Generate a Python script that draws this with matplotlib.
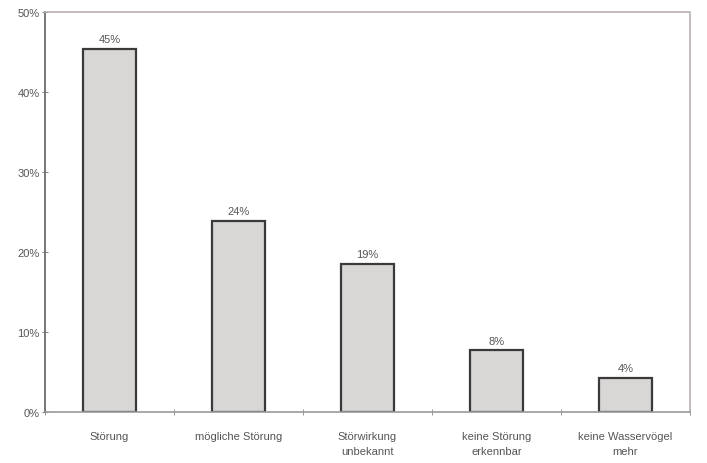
import matplotlib
matplotlib.use('Agg')
import matplotlib.pyplot as plt
import numpy as np

# data
categories = ['Störung', 'mögliche Störung', 'Störwirkung\nunbekannt',
              'keine Störung\nerkennbar', 'keine Wasservögel\nmehr']
values = [45.4, 23.9, 18.5, 7.7, 4.3]
bar_labels = ['45%', '24%', '19%', '8%', '4%']
yticks = [0, 10, 20, 30, 40, 50]

plt.rcParams['font.family'] = ['Liberation Sans', 'DejaVu Sans']

fig = plt.figure(figsize=(7.07, 4.64), dpi=100)
ax = fig.add_axes([0.0636, 0.110, 0.9124, 0.862])

x = np.arange(len(categories))
bars = ax.bar(x, values, width=0.41, color='#d9d6d6', edgecolor='#3a3a3a', linewidth=1.6)

for b, lab in zip(bars, bar_labels):
    ax.text(b.get_x() + b.get_width() / 2, b.get_height() + 0.6, lab,
            ha='center', va='bottom', fontsize=8, color='#555555')

ax.set_xlim(-0.5, len(categories) - 0.5)
ax.set_ylim(0, 50)
ax.set_yticks(yticks)
ax.set_yticklabels([f'{t}%' for t in yticks], fontsize=8, color='#555555')
ax.set_xticks(x)
ax.set_xticklabels(categories, fontsize=8, color='#555555', linespacing=1.6)
ax.set_xticks(np.arange(-0.5, len(categories)), minor=True)
ax.tick_params(axis='x', which='major', length=0, pad=14)
ax.tick_params(axis='x', which='minor', length=4, direction='inout', color='#888888')
ax.tick_params(axis='y', length=4, direction='inout', color='#888888', pad=2)

for side in ['top', 'right']:
    ax.spines[side].set_color('#b8b0b0')
    ax.spines[side].set_linestyle((0, (4, 1)))
    ax.spines[side].set_linewidth(1.2)
ax.spines['left'].set_color('#777777')
ax.spines['left'].set_linewidth(1.4)
ax.spines['bottom'].set_color('#999999')
ax.spines['bottom'].set_linewidth(1.2)

fig.savefig('out.png', dpi=100)
